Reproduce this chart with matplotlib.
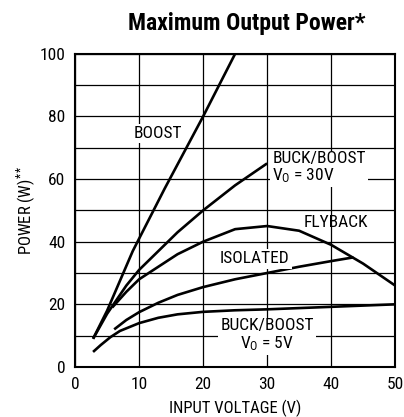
import matplotlib
matplotlib.use("Agg")
import matplotlib.pyplot as plt

plt.rcParams['font.family'] = ['Roboto Condensed', 'Archivo Narrow', 'DejaVu Sans']
plt.rcParams['mathtext.fontset'] = 'custom'
plt.rcParams['mathtext.rm'] = 'Roboto Condensed'
plt.rcParams['mathtext.it'] = 'Roboto Condensed'

# curves (input voltage V, power W)
boost_v = [2.8, 5, 9, 14, 20, 25]
boost_p = [9, 18, 37, 57, 80, 100]

bb30_v = [2.8, 5, 8, 10, 13, 16, 20, 25, 30]
bb30_p = [9, 17, 26, 31, 37, 43, 50, 58, 65]

fly_v = [5.8, 8, 10, 13, 16, 20, 25, 30, 35, 40, 45, 50]
fly_p = [19, 24, 28, 32, 36, 40, 44, 45, 43.5, 39, 33, 26]

iso_v = [6.1, 8, 10, 13, 16, 20, 25, 30, 35, 40, 43.5]
iso_p = [12, 15, 17.5, 20.5, 23, 25.5, 28, 30, 32, 33.8, 35]

bb5_v = [2.8, 4, 5.5, 7, 10, 13, 16, 20, 25, 30, 40, 50]
bb5_p = [4.8, 7, 9.5, 11.5, 14, 15.7, 16.8, 17.6, 18.1, 18.4, 19.2, 20]

fig = plt.figure(figsize=(4.04, 4.17), dpi=100)
ax = fig.add_axes([0.186, 0.12, 0.792, 0.751])

for v, p in [(boost_v, boost_p), (bb30_v, bb30_p), (fly_v, fly_p),
             (iso_v, iso_p), (bb5_v, bb5_p)]:
    ax.plot(v, p, color='black', lw=1.9, solid_capstyle='butt', zorder=3)

box = dict(facecolor='white', edgecolor='none', pad=1.5)
fs = 12.5
ax.text(13, 74.5, 'BOOST', fontsize=fs, ha='center', va='center', bbox=box, zorder=4)
ax.text(30.8, 63.5, 'BUCK/BOOST\nV$_\\mathrm{O}$ = 30V', fontsize=fs, ha='left', va='center',
        linespacing=1.05, bbox=box, zorder=4)
ax.text(40.8, 46, 'FLYBACK', fontsize=fs, ha='center', va='center', zorder=4)
ax.text(28.1, 34.5, 'ISOLATED', fontsize=fs, ha='center', va='center', bbox=box, zorder=4)
ax.text(30, 10, 'BUCK/BOOST\nV$_\\mathrm{O}$ = 5V', fontsize=fs, ha='center', va='center',
        linespacing=1.05, bbox=box, zorder=4)

ax.set_xlim(0, 50)
ax.set_ylim(0, 100)
ax.set_xticks(range(0, 51, 10))
ax.set_yticks(range(0, 101, 20))
ax.set_yticks(range(0, 101, 10), minor=True)
ax.grid(True, which='both', color='black', lw=0.9, zorder=1)
ax.set_axisbelow(True)
ax.tick_params(which='both', length=0, labelsize=12.5, pad=7)
for s in ax.spines.values():
    s.set_linewidth(1.5)

ax.set_xlabel('INPUT VOLTAGE (V)', fontsize=12, labelpad=6)
ax.set_ylabel('POWER (W)$^{**}$', fontsize=12, labelpad=1)
ax.set_title('Maximum Output Power*', fontsize=17, fontweight='bold', pad=17, x=0.537)

fig.savefig('out.png', dpi=100)
